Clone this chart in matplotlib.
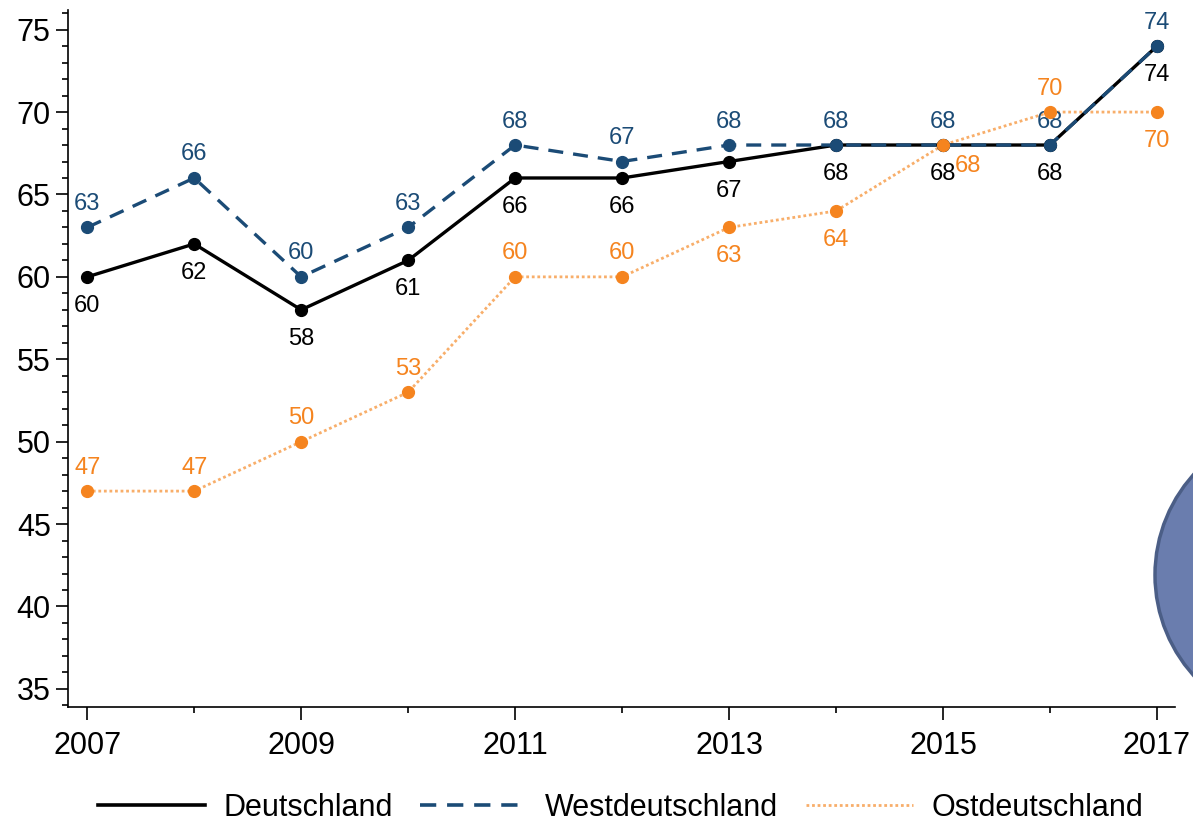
import matplotlib
matplotlib.use("Agg")
import matplotlib.pyplot as plt
from matplotlib.lines import Line2D
from matplotlib.patches import Ellipse
from matplotlib.ticker import MultipleLocator

plt.rcParams['font.family'] = ['Liberation Sans', 'DejaVu Sans']

years = [2007, 2008, 2009, 2010, 2011, 2012, 2013, 2014, 2015, 2016, 2017]
deutschland = [60, 62, 58, 61, 66, 66, 67, 68, 68, 68, 74]
west = [63, 66, 60, 63, 68, 67, 68, 68, 68, 68, 74]
ost = [47, 47, 50, 53, 60, 60, 63, 64, 68, 70, 70]
# where each Ost label sits relative to its point
ost_pos = ['above', 'above', 'above', 'above', 'above', 'above',
           'below', 'below', 'right', 'above', 'below']
series_names = ['Deutschland', 'Westdeutschland', 'Ostdeutschland']

c_black = '#000000'
c_west = '#1B4B76'
c_ost = '#F5841F'
c_ost_line = '#F8AE6A'
west_dash = (0, (4.5, 3))
ost_dot = (0, (1, 1))

fig = plt.figure(figsize=(11.93, 8.24), dpi=100)
ax = fig.add_axes([0.057, 0.142, 0.928, 0.846])

# Ost (dotted) drawn first, underneath
ax.plot(years, ost, color=c_ost_line, lw=2.0, ls=ost_dot, zorder=2)
ax.plot(years, ost, 'o', color=c_ost, ms=8.5, zorder=5)
ax.plot(years, deutschland, '-o', color=c_black, lw=2.4, ms=8.5, zorder=3)
ax.plot(years, west, '-o', color=c_west, lw=2.4, ms=8.5, ls=west_dash, zorder=4)

fs = 17
for x, y in zip(years, deutschland):
    ax.annotate(str(y), (x, y), xytext=(0, -13), textcoords='offset points',
                ha='center', va='top', fontsize=fs, color=c_black)
for x, y in zip(years, west):
    ax.annotate(str(y), (x, y), xytext=(0, 9), textcoords='offset points',
                ha='center', va='bottom', fontsize=fs, color=c_west)
for x, y, p in zip(years, ost, ost_pos):
    if p == 'above':
        off, va = (0, 9), 'bottom'
    elif p == 'below':
        off, va = (0, -13), 'top'
    else:
        off, va = (18, -7), 'top'
    ax.annotate(str(y), (x, y), xytext=off, textcoords='offset points',
                ha='center', va=va, fontsize=fs, color=c_ost)

ax.set_xlim(2006.82, 2017.17)
ax.set_ylim(33.9, 76.2)
ax.xaxis.set_major_locator(MultipleLocator(2))
ax.xaxis.set_minor_locator(MultipleLocator(1))
ax.yaxis.set_major_locator(MultipleLocator(5))
ax.yaxis.set_minor_locator(MultipleLocator(1))
ax.tick_params(axis='both', which='major', labelsize=22, length=9, width=1.2,
               direction='out')
ax.tick_params(axis='both', which='minor', length=4, width=1.2)
ax.tick_params(axis='x', which='major', pad=8)
ax.set_xticks([2007, 2009, 2011, 2013, 2015, 2017])
ax.spines['top'].set_visible(False)
ax.spines['right'].set_visible(False)
for s in ('left', 'bottom'):
    ax.spines[s].set_linewidth(1.2)

handles = [Line2D([], [], color=c_black, lw=2.6),
           Line2D([], [], color=c_west, lw=2.6, ls=west_dash),
           Line2D([], [], color=c_ost_line, lw=2.0, ls=ost_dot)]
fig.legend(handles, series_names, loc='center', bbox_to_anchor=(0.52, 0.02),
           ncol=3, frameon=False, fontsize=22, handlelength=3.5,
           handletextpad=0.6, columnspacing=0.9)

# decorative circle cut off at the right edge
fig.add_artist(Ellipse((1305 / 1193, 1 - 575 / 824), 300 / 1193, 300 / 824,
                       transform=fig.transFigure, facecolor='#6A7DAE',
                       edgecolor='#4B5E86', lw=2.5, zorder=10))

fig.savefig('out.png', dpi=100)
